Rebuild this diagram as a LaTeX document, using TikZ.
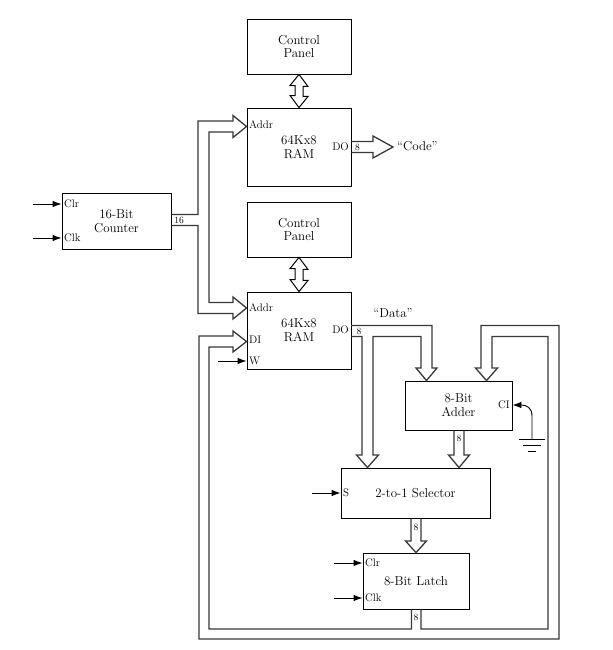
\documentclass[tikz,border=0pt]{standalone}
\usetikzlibrary{arrows.meta,calc}
\newcommand{\mainf}{\fontsize{13}{14}\selectfont}
\newcommand{\smallf}{\fontsize{11}{12}\selectfont}
\newcommand{\numf}{\fontsize{9.5}{10}\selectfont}
\begin{document}
\begin{tikzpicture}[x=1bp,y=-1bp,
  box/.style={draw=black, line width=0.9bp, inner sep=0pt, align=center, font=\mainf},
  lbl/.style={inner sep=1bp, font=\smallf},
  num/.style={inner sep=0pt, font=\numf},
  txt/.style={inner sep=0pt, font=\mainf},
  bus/.style={draw=black!78, line width=1.3bp, line join=miter},
  sig/.style={draw=black, line width=0.9bp, -{Latex[length=9bp,width=6.5bp]}},
  bidi/.style={draw=black, line width=1bp, fill=white, line join=miter}]
\path[use as bounding box] (0,0) rectangle (613,650);

% boxes
\node[box, minimum width=104bp, minimum height=55bp] (cp1) at (299,46.5) {Control\\Panel};
\node[box, minimum width=104bp, minimum height=78bp] (ram1) at (299,147) {64Kx8\\RAM};
\node[box, minimum width=104bp, minimum height=55bp] (cp2) at (299,229.5) {Control\\Panel};
\node[box, minimum width=104bp, minimum height=77bp] (ram2) at (299,330.5) {64Kx8\\RAM};
\node[box, minimum width=109bp, minimum height=56bp] (ctr) at (116.5,221) {16-Bit\\Counter};
\node[box, minimum width=107bp, minimum height=49bp] (add) at (458.5,405.5) {8-Bit\\Adder};
\node[box, minimum width=149bp, minimum height=50bp] (sel) at (415.5,493) {2-to-1 Selector};
\node[box, minimum width=106bp, minimum height=56bp] (lat) at (416,581) {8-Bit Latch};

% port labels
\node[lbl, anchor=west] (ctrclr) at (63,204) {Clr};
\node[lbl, anchor=west] (ctrclk) at (63,238) {Clk};
\node[lbl, anchor=west] (addr1) at (248,125) {Addr};
\node[lbl, anchor=east] (do1) at (350,147) {DO};
\node[lbl, anchor=west] (addr2) at (248,308) {Addr};
\node[lbl, anchor=west] (di2) at (248,340) {DI};
\node[lbl, anchor=west] (w2) at (248,361) {W};
\node[lbl, anchor=east] (do2) at (350,330) {DO};
\node[lbl, anchor=east] (ci) at (511,405) {CI};
\node[lbl, anchor=west] (sels) at (342,493) {S};
\node[lbl, anchor=west] (latclr) at (364,563) {Clr};
\node[lbl, anchor=west] (latclk) at (364,598) {Clk};

% bus width labels
\node[num] (n16) at (179,220) {16};
\node[num] (n8a) at (357.5,147.5) {8};
\node[num] (n8b) at (359,331) {8};
\node[num] (n8c) at (459,438) {8};
\node[num] (n8d) at (416,527) {8};
\node[num] (n8e) at (416,617) {8};

% texts
\node[txt, anchor=west] (code) at (397,146) {``Code''};
\node[txt] (data) at (393,313) {``Data''};

% bidirectional arrows
\draw[bidi] (cp1.south) -- ++(9,12) -- ++(-5,0) -- ++(0,10) -- ++(5,0) -- (ram1.north) -- ++(-9,-12) -- ++(5,0) -- ++(0,-10) -- ++(-5,0) -- cycle;
\draw[bidi] (cp2.south) -- ++(9,12) -- ++(-5,0) -- ++(0,11) -- ++(5,0) -- (ram2.north) -- ++(-9,-12) -- ++(5,0) -- ++(0,-11) -- ++(-5,0) -- cycle;

% address bus from counter to both RAMs
\draw[bus] (ctr.east |- 0,214.5) -- (198,214.5) -- (198,121) -- (233,121) -- (233,115.5) -- (ram1.west |- 0,126.5) -- (233,137.5) -- (233,132) -- (209,132) -- (209,302.5) -- (233,302.5) -- (233,297) -- (ram2.west |- 0,308) -- (233,319) -- (233,313.5) -- (198,313.5) -- (198,225.5) -- (ctr.east |- 0,225.5);

% RAM1 data out
\draw[bus] (ram1.east |- 0,141.5) -- (373,141.5) -- (373,136) -- (393,147) -- (373,158) -- (373,152.5) -- (ram1.east |- 0,152.5);

% RAM2 data out to adder and selector
\draw[bus] (ram2.east |- 0,325.5) -- (432,325.5) -- (432,368) -- (437,368) -- (add.north -| 426.5,0) -- (416,368) -- (421,368) -- (421,336.5) -- (373,336.5) -- (373,455) -- (378.5,455) -- (sel.north -| 367.5,0) -- (356.5,455) -- (362,455) -- (362,336.5) -- (ram2.east |- 0,336.5);

% adder out to selector
\draw[bus] (add.south -| 454,0) -- (454,455) -- (448.5,455) -- (sel.north -| 459,0) -- (469.5,455) -- (464,455) -- (add.south -| 464,0);

% selector out to latch
\draw[bus] (sel.south -| 411,0) -- (411,541) -- (405.5,541) -- (lat.north) -- (426.5,541) -- (421,541) -- (sel.south -| 421,0);

% latch out feedback to RAM DI and adder
\draw[bus] (lat.south -| 411.5,0) -- (411.5,629) -- (209,629) -- (209,347) -- (233,347) -- (233,352) -- (ram2.west |- 0,341.5) -- (233,331) -- (233,336) -- (199,336) -- (199,639) -- (559,639) -- (559,325.5) -- (481,325.5) -- (481,368) -- (475.5,368) -- (add.north -| 486.5,0) -- (497.5,368) -- (492,368) -- (492,336.5) -- (548,336.5) -- (548,629) -- (421,629) -- (lat.south -| 421,0);

% control signals
\coordinate (ctrclrin) at (33,204);
\coordinate (ctrclkin) at (33,238);
\coordinate (win) at (218,361);
\coordinate (sin) at (312,493);
\coordinate (latclrin) at (334,563);
\coordinate (latclkin) at (334,598);
\draw[sig] (ctrclrin) -- (ctrclrin -| ctr.west);
\draw[sig] (ctrclkin) -- (ctrclkin -| ctr.west);
\draw[sig] (win) -- (win -| ram2.west);
\draw[sig] (sin) -- (sin -| sel.west);
\draw[sig] (latclrin) -- (latclrin -| lat.west);
\draw[sig] (latclkin) -- (latclkin -| lat.west);

% carry in from ground
\coordinate (gnd) at (532,439);
\draw[sig] (gnd) -- (532,416) .. controls (532,408) and (527,405) .. (add.east |- 0,405);
\draw[line width=0.9bp] (519,439) -- (545,439) (523,445) -- (541,445) (528,451) -- (536,451);
\end{tikzpicture}
\end{document}
